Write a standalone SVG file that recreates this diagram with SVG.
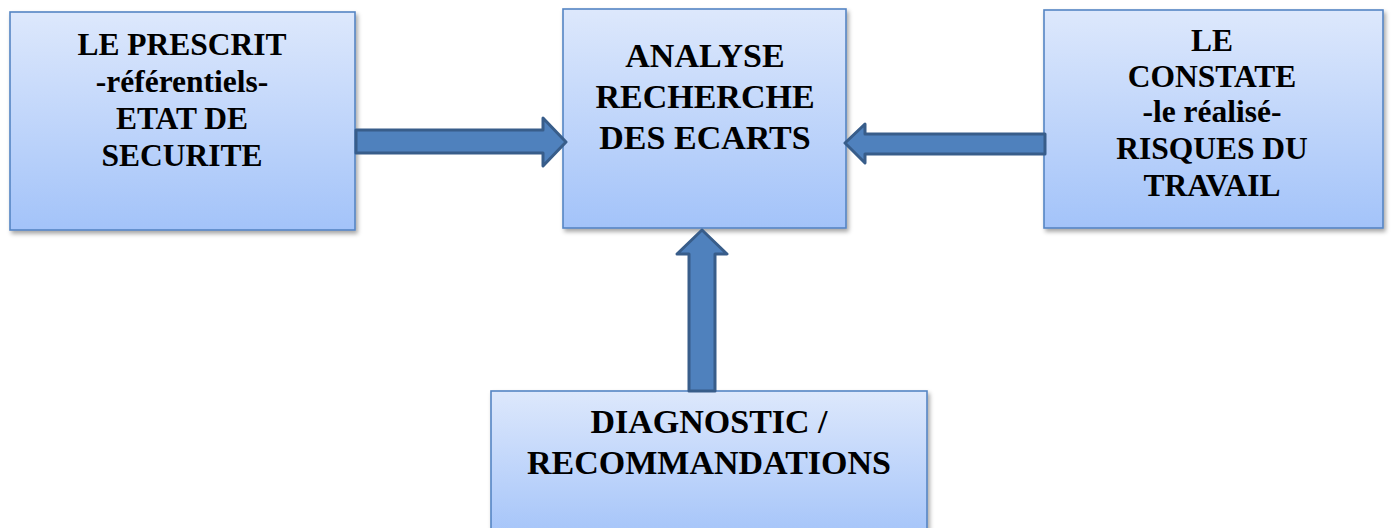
<svg xmlns="http://www.w3.org/2000/svg" width="1391" height="528" viewBox="0 0 1391 528">
<defs>
<linearGradient id="g" x1="0" y1="0" x2="0" y2="1">
<stop offset="0" stop-color="#DDE8FC"/>
<stop offset="1" stop-color="#A3C3F9"/>
</linearGradient>
<filter id="sh" x="-5%" y="-5%" width="115%" height="115%">
<feDropShadow dx="2" dy="3" stdDeviation="2" flood-color="#000" flood-opacity="0.35"/>
</filter>
</defs>
<style>
.box{fill:url(#g);stroke:#5585C4;stroke-width:1.6;filter:url(#sh)}
.t{font-family:"Liberation Serif","Times New Roman",serif;font-weight:bold;fill:#000;text-anchor:middle}
.s{font-size:31.5px}
.l{font-size:34px}
.arr{fill:#4F81BD;stroke:#385D8A;stroke-width:3;stroke-linejoin:round}
</style>
<rect width="1391" height="528" fill="#fff"/>
<g id="prescrit">
<rect class="box" x="10" y="12" width="345" height="218"/>
<text class="t s" x="182" y="55">LE PRESCRIT</text>
<text class="t s" x="182" y="92">-référentiels-</text>
<text class="t s" x="182" y="129">ETAT DE</text>
<text class="t s" x="182" y="166">SECURITE</text>
</g>
<g id="analyse">
<rect class="box" x="563" y="9" width="283" height="219"/>
<text class="t l" x="705" y="67">ANALYSE</text>
<text class="t l" x="705" y="108">RECHERCHE</text>
<text class="t l" x="705" y="149">DES ECARTS</text>
</g>
<g id="constate">
<rect class="box" x="1044" y="10" width="339" height="218"/>
<text class="t s" x="1212" y="51">LE</text>
<text class="t s" x="1212" y="87">CONSTATE</text>
<text class="t s" x="1212" y="122">-le réalisé-</text>
<text class="t s" x="1212" y="159">RISQUES DU</text>
<text class="t s" x="1212" y="196">TRAVAIL</text>
</g>
<g id="diagnostic">
<rect class="box" x="491" y="391" width="436" height="150"/>
<text class="t l" x="709" y="433">DIAGNOSTIC /</text>
<text class="t l" x="709" y="474">RECOMMANDATIONS</text>
</g>
<g id="connectors">
<polygon class="arr" points="356,130 543,130 543,118 566,142 543,166 543,153 356,153"/>
<polygon class="arr" points="1045,134 865,134 865,124 845,143 865,163 865,154 1045,154"/>
<polygon class="arr" points="689,391 689,254 677,254 702,230 727,254 715,254 715,391"/>
</g>
</svg>
